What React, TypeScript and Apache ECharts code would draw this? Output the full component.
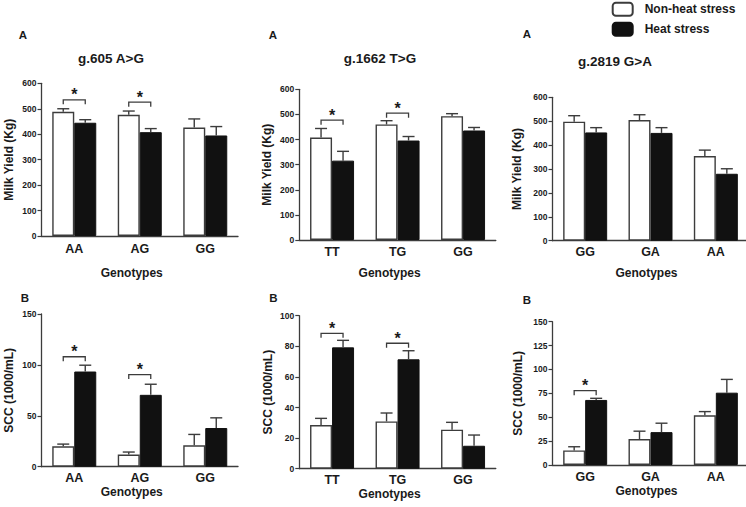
import React, { useEffect, useRef } from "react";
import * as echarts from "echarts";

const NON = "Non-heat stress";
const HEAT = "Heat stress";
const X_NAME = "Genotypes";
const MILK_NAME = "Milk Yield (Kg)";
const SCC_NAME = "SCC (1000/mL)";

// g.605 A>G
const cats605 = ["AA", "AG", "GG"];
const milk605Non = [488, 476, 426];
const milk605NonSE = [12, 15, 34];
const milk605Heat = [445, 408, 395];
const milk605HeatSE = [12, 14, 35];
const milk605Sig = [535, 526, null];
const scc605Non = [20, 12, 21];
const scc605NonSE = [2.2, 2.4, 10.7];
const scc605Heat = [93.5, 70.6, 38];
const scc605HeatSE = [6.2, 10.4, 10];
const scc605Sig = [108, 90.5, null];

// g.1662 T>G
const cats1662 = ["TT", "TG", "GG"];
const milk1662Non = [408, 460, 493];
const milk1662NonSE = [36, 15, 10];
const milk1662Heat = [316, 396, 436];
const milk1662HeatSE = [37, 16, 12];
const milk1662Sig = [477, 505, null];
const scc1662Non = [28.5, 30.9, 25.5];
const scc1662NonSE = [4.4, 5.5, 4.8];
const scc1662Heat = [79.3, 71.5, 15];
const scc1662HeatSE = [4.6, 5.6, 7];
const scc1662Sig = [88.5, 82, null];

// g.2819 G>A
const cats2819 = ["GG", "GA", "AA"];
const milk2819Non = [498, 505, 354];
const milk2819NonSE = [25, 22, 25];
const milk2819Heat = [453, 451, 280];
const milk2819HeatSE = [20, 22, 21];
const milk2819Sig = [null, null, null];
const scc2819Non = [15.3, 27.1, 52.1];
const scc2819NonSE = [3.8, 8.3, 3.8];
const scc2819Heat = [68.1, 34.4, 75.7];
const scc2819HeatSE = [1.7, 9.35, 13.9];
const scc2819Sig = [77.8, null, null];

// axis scales (max, interval)
const milkAxis = [600, 100];
const scc605Axis = [150, 50];
const scc1662Axis = [100, 20];
const scc2819Axis = [150, 25];

const panelLetters = ["A", "A", "A", "B", "B", "B"];
const geneTitles = ["g.605 A>G", "g.1662 T>G", "g.2819 G>A"];

const panels = [
  { cats: cats605, non: milk605Non, nonSE: milk605NonSE, heat: milk605Heat, heatSE: milk605HeatSE, sig: milk605Sig, axis: milkAxis, yName: MILK_NAME },
  { cats: cats1662, non: milk1662Non, nonSE: milk1662NonSE, heat: milk1662Heat, heatSE: milk1662HeatSE, sig: milk1662Sig, axis: milkAxis, yName: MILK_NAME },
  { cats: cats2819, non: milk2819Non, nonSE: milk2819NonSE, heat: milk2819Heat, heatSE: milk2819HeatSE, sig: milk2819Sig, axis: milkAxis, yName: MILK_NAME },
  { cats: cats605, non: scc605Non, nonSE: scc605NonSE, heat: scc605Heat, heatSE: scc605HeatSE, sig: scc605Sig, axis: scc605Axis, yName: SCC_NAME },
  { cats: cats1662, non: scc1662Non, nonSE: scc1662NonSE, heat: scc1662Heat, heatSE: scc1662HeatSE, sig: scc1662Sig, axis: scc1662Axis, yName: SCC_NAME },
  { cats: cats2819, non: scc2819Non, nonSE: scc2819NonSE, heat: scc2819Heat, heatSE: scc2819HeatSE, sig: scc2819Sig, axis: scc2819Axis, yName: SCC_NAME },
];

// layout (pixels)
const GRIDS = [
  { left: 41.5, top: 83.3, width: 196.5, height: 152.7 },
  { left: 299.3, top: 89.3, width: 196.5, height: 150.7 },
  { left: 552.5, top: 97.3, width: 196, height: 143.4 },
  { left: 41.5, top: 314, width: 196.5, height: 152.7 },
  { left: 299.3, top: 315.7, width: 196.5, height: 153 },
  { left: 552.5, top: 321.7, width: 196, height: 143.3 },
];
const Y_NAME_GAP = [27, 26, 30, 27, 25, 28.5];
const X_NAME_GAP = [31, 27, 26, 18, 16, 20];
const X_NAME_SHIFT = [16, 16, 8, 16, 16, 8];
const X_LABEL_MARGIN = [6, 5, 5, 5, 5, 5];
const LETTER_POS = [
  [23, 35], [273, 35], [527, 33.5], [25, 298], [273.3, 298], [527, 300],
];
const TITLE_POS = [[111, 58], [380, 58.3], [615, 61.7]];

const FONT = 'Arial, "Liberation Sans", Helvetica, sans-serif';
const TEXT = "#1a1a1a";
const AXIS = "#3c3c3c";
const BAR_W = 22;
const CAP = 6;
const TICK = 4.5;

export default function App() {
  const ref = useRef<HTMLDivElement>(null);

  useEffect(() => {
    if (!ref.current) return;
    const chart = echarts.init(ref.current, undefined, { renderer: "svg" });

    const errRender = (params: any, api: any) => {
      const x = api.value(0);
      const m = api.value(1);
      const e = api.value(2);
      const side = api.value(3);
      const p0 = api.coord([x, m]);
      const p1 = api.coord([x, m + e]);
      const cx = p0[0] + (side * BAR_W) / 2;
      const st = { stroke: AXIS, lineWidth: 1.4 };
      return {
        type: "group",
        children: [
          { type: "line", shape: { x1: cx, y1: p0[1], x2: cx, y2: p1[1] }, style: st },
          { type: "line", shape: { x1: cx - CAP, y1: p1[1], x2: cx + CAP, y2: p1[1] }, style: st },
        ],
      };
    };

    const sigRender = (params: any, api: any) => {
      const x = api.value(0);
      const v = api.value(1);
      const p = api.coord([x, v]);
      const xl = p[0] - BAR_W / 2;
      const xr = p[0] + BAR_W / 2;
      return {
        type: "group",
        children: [
          {
            type: "polyline",
            shape: { points: [[xl, p[1] + TICK], [xl, p[1]], [xr, p[1]], [xr, p[1] + TICK]] },
            style: { stroke: AXIS, lineWidth: 1.3, fill: "none" },
          },
          {
            type: "text",
            x: p[0],
            y: p[1] - 5,
            style: {
              text: "*",
              fill: TEXT,
              font: `bold 16px ${FONT}`,
              align: "center",
              verticalAlign: "middle",
            },
          },
        ],
      };
    };

    const grid: any[] = [];
    const xAxis: any[] = [];
    const yAxis: any[] = [];
    const series: any[] = [];

    panels.forEach((p, i) => {
      grid.push({ ...GRIDS[i], containLabel: false, outerBoundsMode: "none" });
      xAxis.push({
        gridIndex: i,
        type: "category",
        data: p.cats,
        name: X_NAME,
        nameLocation: "middle",
        nameGap: X_NAME_GAP[i],
        nameTextStyle: {
          fontFamily: FONT,
          fontWeight: "bold",
          fontSize: 12,
          color: TEXT,
          padding: [0, X_NAME_SHIFT[i], 0, 0],
        },
        axisLine: { lineStyle: { color: AXIS, width: 1.3 } },
        axisTick: { show: false },
        axisLabel: {
          fontFamily: FONT,
          fontWeight: "bold",
          fontSize: 12.5,
          color: TEXT,
          margin: X_LABEL_MARGIN[i],
        },
        splitLine: { show: false },
      });
      yAxis.push({
        gridIndex: i,
        type: "value",
        min: 0,
        max: p.axis[0],
        interval: p.axis[1],
        name: p.yName,
        nameLocation: "middle",
        nameRotate: 90,
        nameGap: Y_NAME_GAP[i],
        nameTextStyle: { fontFamily: FONT, fontWeight: "bold", fontSize: 12, color: TEXT },
        axisLine: { show: true, onZero: false, lineStyle: { color: AXIS, width: 1.3 } },
        axisTick: { show: true, length: 4, lineStyle: { color: AXIS, width: 1.2 } },
        axisLabel: { fontFamily: FONT, fontWeight: "bold", fontSize: 8.5, color: TEXT, margin: 5 },
        splitLine: { show: false },
      });
      series.push({
        type: "bar",
        name: NON,
        xAxisIndex: i,
        yAxisIndex: i,
        data: p.non,
        barWidth: BAR_W,
        barGap: "0%",
        itemStyle: { color: "#ffffff", borderColor: AXIS, borderWidth: 1.4 },
        emphasis: { disabled: true },
      });
      series.push({
        type: "bar",
        name: HEAT,
        xAxisIndex: i,
        yAxisIndex: i,
        data: p.heat,
        barWidth: BAR_W,
        barGap: "0%",
        itemStyle: { color: "#111111", borderColor: "#111111", borderWidth: 1 },
        emphasis: { disabled: true },
      });
      const errData: number[][] = [];
      p.cats.forEach((_, j) => {
        errData.push([j, p.non[j], p.nonSE[j], -1]);
        errData.push([j, p.heat[j], p.heatSE[j], 1]);
      });
      series.push({
        type: "custom",
        xAxisIndex: i,
        yAxisIndex: i,
        data: errData,
        encode: { x: 0, y: 1 },
        renderItem: errRender,
        z: 5,
        silent: true,
      });
      const sigData: number[][] = [];
      p.sig.forEach((v, j) => {
        if (v != null) sigData.push([j, v as number]);
      });
      if (sigData.length) {
        series.push({
          type: "custom",
          xAxisIndex: i,
          yAxisIndex: i,
          data: sigData,
          encode: { x: 0, y: 1 },
          renderItem: sigRender,
          z: 6,
          silent: true,
        });
      }
    });

    const graphic: any[] = [];
    panelLetters.forEach((t, i) => {
      graphic.push({
        type: "text",
        x: LETTER_POS[i][0],
        y: LETTER_POS[i][1],
        style: { text: t, fill: TEXT, font: `bold 11.5px ${FONT}`, align: "center", verticalAlign: "middle" },
      });
    });
    geneTitles.forEach((t, i) => {
      graphic.push({
        type: "text",
        x: TITLE_POS[i][0],
        y: TITLE_POS[i][1],
        style: { text: t, fill: TEXT, font: `bold 13.5px ${FONT}`, align: "center", verticalAlign: "middle" },
      });
    });

    chart.setOption({
      animation: false,
      backgroundColor: "#ffffff",
      textStyle: { fontFamily: FONT },
      legend: {
        data: [NON, HEAT],
        orient: "vertical",
        left: 611.7,
        top: 1.7,
        padding: 0,
        itemWidth: 20,
        itemHeight: 13,
        itemGap: 5,
        selectedMode: false,
        textStyle: { fontFamily: FONT, fontWeight: "bold", fontSize: 12, color: TEXT, padding: [0, 0, 0, 7] },
      },
      grid,
      xAxis,
      yAxis,
      series,
      graphic,
    });

    return () => chart.dispose();
  }, []);

  return (
    <div
      ref={ref}
      style={{ position: "absolute", left: 0, top: 0, width: 746, height: 507, background: "#fff" }}
    />
  );
}
